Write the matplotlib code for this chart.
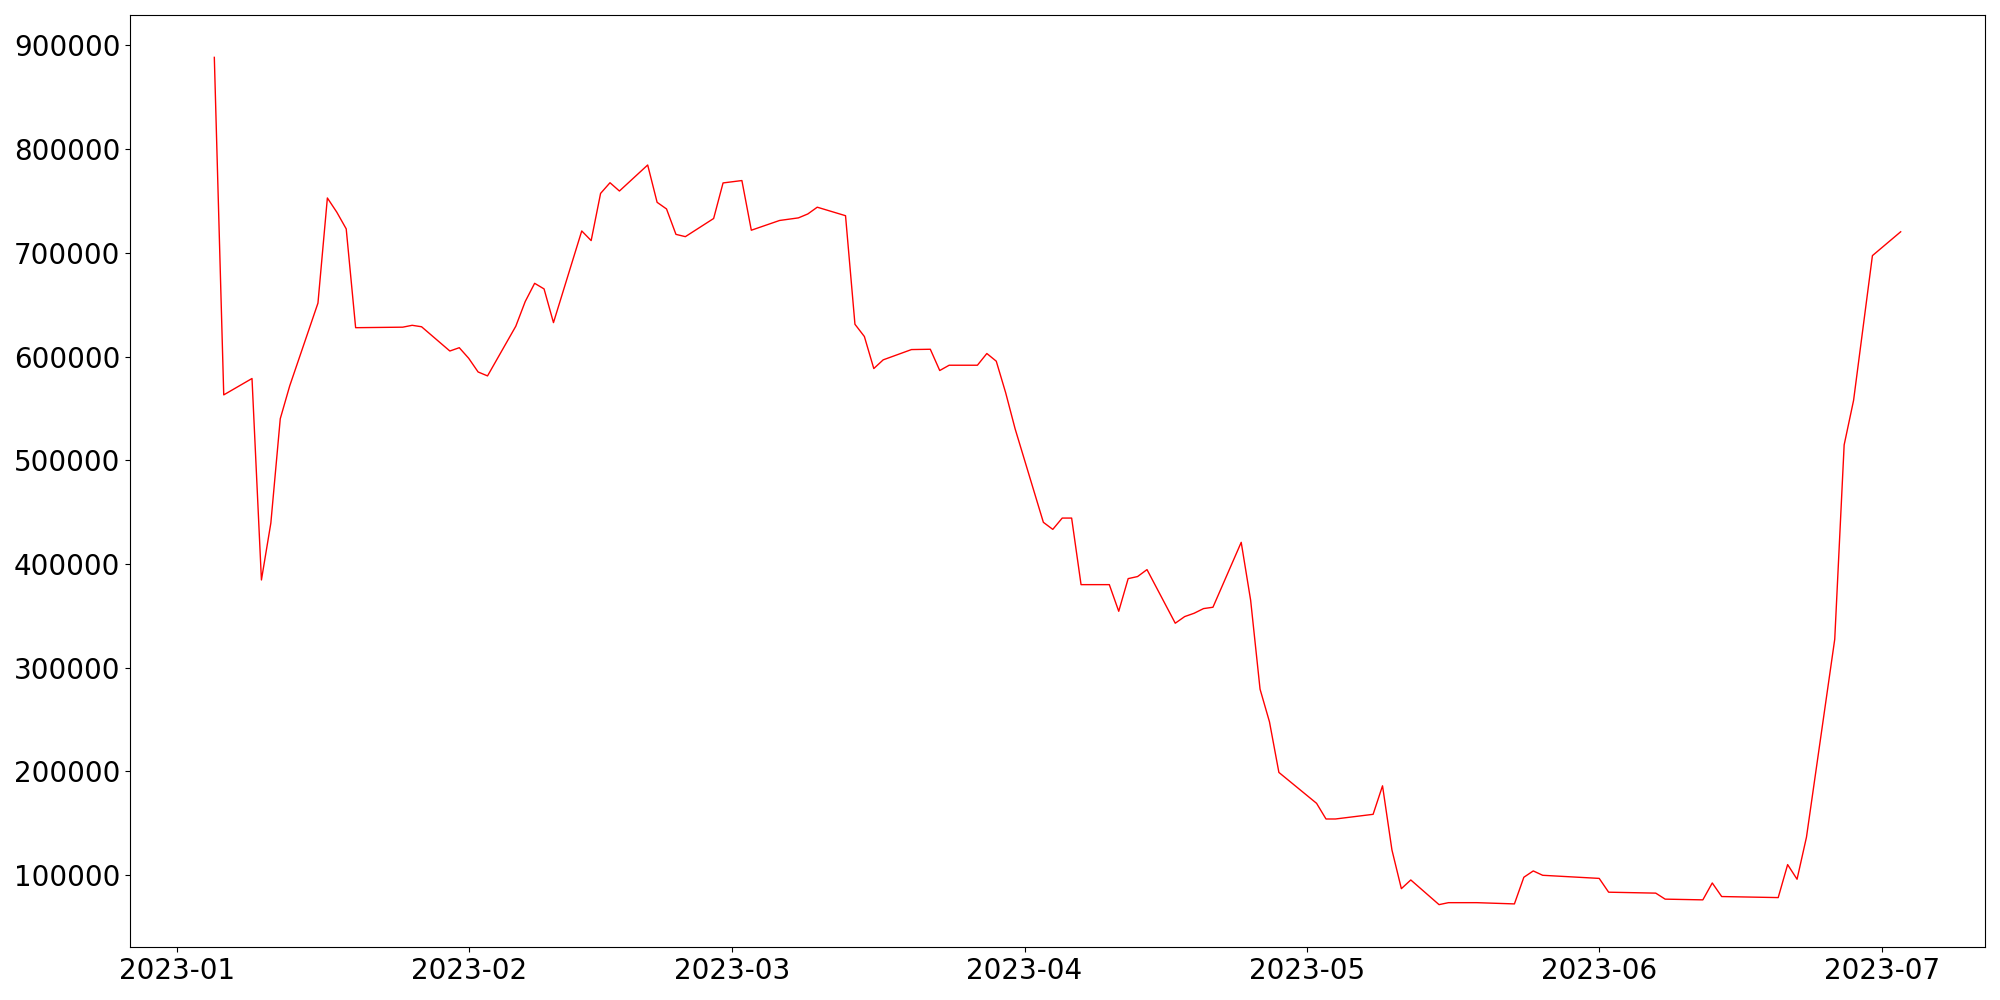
import numpy as np
import pandas as pd
import matplotlib
matplotlib.use("Agg")
import matplotlib.pyplot as plt

# values (only the visible vertices of the line)
dates = [
    "2023-01-05", "2023-01-06", "2023-01-09", "2023-01-10", "2023-01-11",
    "2023-01-12", "2023-01-13", "2023-01-16", "2023-01-17", "2023-01-18",
    "2023-01-19", "2023-01-20", "2023-01-25", "2023-01-26", "2023-01-27",
    "2023-01-30", "2023-01-31", "2023-02-01", "2023-02-02", "2023-02-03",
    "2023-02-06", "2023-02-07", "2023-02-08", "2023-02-09", "2023-02-10",
    "2023-02-13", "2023-02-14", "2023-02-15", "2023-02-16", "2023-02-17",
    "2023-02-20", "2023-02-21", "2023-02-22", "2023-02-23", "2023-02-24",
    "2023-02-27", "2023-02-28", "2023-03-02", "2023-03-03", "2023-03-06",
    "2023-03-08", "2023-03-09", "2023-03-10", "2023-03-13", "2023-03-14",
    "2023-03-15", "2023-03-16", "2023-03-17", "2023-03-20", "2023-03-22",
    "2023-03-23", "2023-03-24", "2023-03-27", "2023-03-28", "2023-03-29",
    "2023-03-30", "2023-03-31", "2023-04-03", "2023-04-04", "2023-04-05",
    "2023-04-06", "2023-04-07", "2023-04-10", "2023-04-11", "2023-04-12",
    "2023-04-13", "2023-04-14", "2023-04-17", "2023-04-18", "2023-04-19",
    "2023-04-20", "2023-04-21", "2023-04-24", "2023-04-25", "2023-04-26",
    "2023-04-27", "2023-04-28", "2023-05-02", "2023-05-03", "2023-05-04",
    "2023-05-08", "2023-05-09", "2023-05-10", "2023-05-11", "2023-05-12",
    "2023-05-15", "2023-05-16", "2023-05-19", "2023-05-23", "2023-05-24",
    "2023-05-25", "2023-05-26", "2023-06-01", "2023-06-02", "2023-06-07",
    "2023-06-08", "2023-06-12", "2023-06-13", "2023-06-14", "2023-06-20",
    "2023-06-21", "2023-06-22", "2023-06-23", "2023-06-26", "2023-06-27",
    "2023-06-28", "2023-06-30", "2023-07-03",
]
values = [
    888500, 563000, 578800, 384500, 439400,
    540000, 571600, 651500, 752900, 739200,
    723100, 627800, 628300, 630100, 628700,
    605300, 608500, 598300, 585100, 581300,
    629200, 653000, 670600, 665200, 632700,
    721100, 711800, 757300, 767600, 759600,
    784700, 748700, 742300, 717800, 715600,
    733100, 767400, 769700, 721800, 731200,
    733700, 737500, 744000, 735800, 631100,
    619300, 588400, 596800, 606700, 607000,
    586500, 591600, 591600, 602900, 595500,
    565000, 530300, 440100, 433300, 444200,
    444200, 380000, 380000, 354300, 385800,
    387800, 394500, 342800, 349200, 352400,
    356900, 358200, 420800, 365000, 279200,
    247700, 198900, 169100, 154000, 154000,
    158500, 186000, 124100, 86800, 95200,
    71400, 73300, 73300, 72100, 97800,
    103900, 99700, 96700, 83400, 82500,
    76700, 76000, 92300, 79200, 78200,
    110000, 95900, 136500, 327300, 514800,
    557700, 697300, 720300,
]

x = pd.to_datetime(dates)

fig, ax = plt.subplots(figsize=(20, 10), dpi=100)
ax.plot(x, values, color="red", lw=1)
ax.tick_params(labelsize=20)
fig.subplots_adjust(left=0.065, right=0.9925, top=0.985, bottom=0.053)
fig.savefig("out.png", dpi=100)
